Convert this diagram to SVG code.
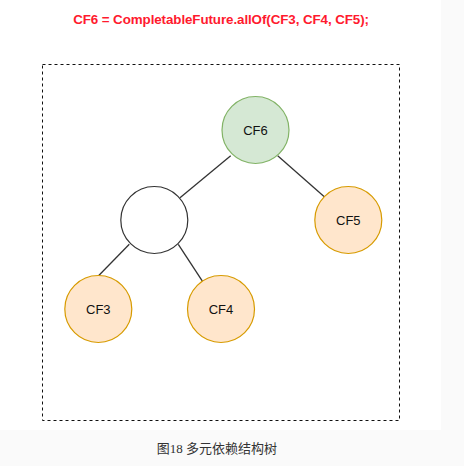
<svg xmlns="http://www.w3.org/2000/svg" width="464" height="466" viewBox="0 0 464 466">
<style>
.node circle{stroke-width:1.2}
.green{fill:#d5e8d4;stroke:#82b366}
.orange{fill:#ffe6cc;stroke:#d79b00}
.plain{fill:#ffffff;stroke:#333333}
.lbl{font-family:"Liberation Sans",Arial,sans-serif;font-size:13px;fill:#111111;text-anchor:middle}
.edge{stroke:#333333;stroke-width:1.3;fill:none}
</style>
<rect x="0" y="0" width="464" height="466" fill="#fafafa"/>
<rect x="0" y="0" width="441" height="430" fill="#ffffff"/>
<text x="221" y="24" font-family="'Liberation Sans',Arial,sans-serif" font-size="13.4" font-weight="bold" fill="#ff1a2e" text-anchor="middle" letter-spacing="-0.1">CF6 = CompletableFuture.allOf(CF3, CF4, CF5);</text>
<rect x="42.5" y="64.5" width="357" height="356" fill="none" stroke="#111111" stroke-width="1" stroke-dasharray="3,3"/>
<g id="connectors">
<line class="edge" x1="230.7" y1="155.7" x2="180" y2="197.7"/>
<line class="edge" x1="277.7" y1="155.7" x2="324.3" y2="196.7"/>
<line class="edge" x1="129.3" y1="244.3" x2="98.3" y2="276"/>
<line class="edge" x1="178.3" y1="244.3" x2="202.7" y2="281.7"/>
</g>
<g id="cf6" class="node"><circle class="green" cx="255.5" cy="130" r="33.5"/><text class="lbl" x="255.5" y="134.5">CF6</text></g>
<g id="mid" class="node"><circle class="plain" cx="154.3" cy="220" r="33.5"/></g>
<g id="cf5" class="node"><circle class="orange" cx="348.3" cy="220" r="33.5"/><text class="lbl" x="348.3" y="224.5">CF5</text></g>
<g id="cf3" class="node"><circle class="orange" cx="98.3" cy="309" r="33.5"/><text class="lbl" x="98.3" y="313.5">CF3</text></g>
<g id="cf4" class="node"><circle class="orange" cx="221" cy="309" r="33.5"/><text class="lbl" x="221" y="313.5">CF4</text></g>
<text x="217" y="453" font-family="'Liberation Serif','Noto Sans CJK SC',serif" font-size="13" fill="#333333" text-anchor="middle">图18 多元依赖结构树</text>
</svg>
